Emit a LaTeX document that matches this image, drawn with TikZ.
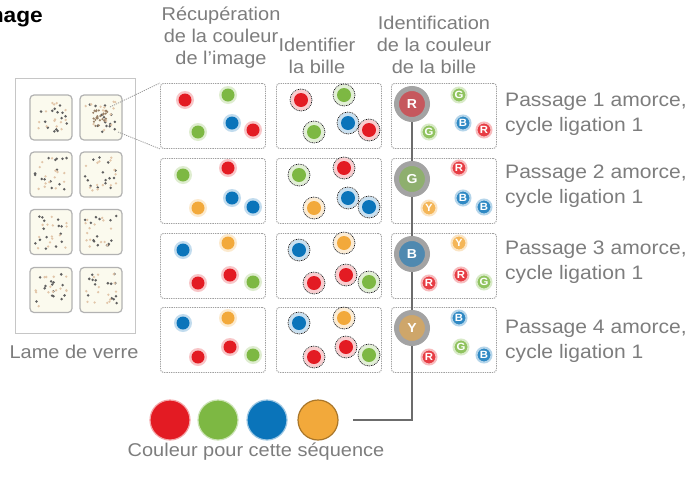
\documentclass[tikz,border=0pt]{standalone}
\usepackage{fontspec}
\setmainfont{Liberation Sans}[FakeStretch=1.08]
\usetikzlibrary{positioning}

\definecolor{cred}{HTML}{E31B23}
\definecolor{cgreen}{HTML}{7DB843}
\definecolor{cblue}{HTML}{0A74BA}
\definecolor{corange}{HTML}{F2A93B}
\definecolor{txtgray}{HTML}{7D7D7D}
\definecolor{ringgray}{HTML}{A3A3A3}
\definecolor{cream}{HTML}{FBFAEE}

\pgfdeclarelayer{front}
\pgfsetlayers{main,front}

\tikzset{
  caption/.style={text=txtgray, font=\fontsize{18.5}{22}\selectfont, align=center, inner sep=0pt},
  panel/.style={draw=gray!75, dash pattern=on 1.3pt off 1pt, line width=0.9pt, rounded corners=3pt,
    fill=white, minimum width=105pt, minimum height=65pt, anchor=north west, inner sep=0pt},
  chip/.style={draw=gray!60, line width=1.2pt, rounded corners=4pt, fill=cream,
    minimum width=42pt, minimum height=45pt, inner sep=0pt},
  ring/.style={black, dash pattern=on 1pt off 0.8pt, line width=0.6pt},
  tag/.style={circle, minimum size=15pt, inner sep=0pt, line width=2pt, text=white,
    font=\bfseries\fontsize{10.5}{11}\selectfont},
  bigbead/.style={circle, minimum size=31pt, inner sep=0pt, draw=ringgray, line width=5pt,
    text=white, font=\bfseries\fontsize{13}{14}\selectfont},
  dye/.style={circle, minimum size=40pt, inner sep=0pt, line width=1.2pt},
  zoomline/.style={gray!80, dash pattern=on 1.2pt off 1pt, line width=0.8pt},
  chain/.style={gray!85!black, line width=1.6pt}
}

\begin{document}
\begin{tikzpicture}[x=1pt, y=-1pt]
\useasboundingbox (0,0) rectangle (688,477);

% title, cut at the left edge
\node[anchor=base east, inner sep=0pt, font=\bfseries\fontsize{21}{24}\selectfont] (title) at (43,22) {Image};

% headers
\node[caption] (h1) at (221,38) {Récupération\\de la couleur\\de l'image};
\node[caption] (h2) at (317,56) {Identifier\\la bille};
\node[caption] (h3) at (434,45) {Identification\\de la couleur\\de la bille};

% glass slide with its spots
\node[draw=gray!45, line width=1.2pt, fill=white, minimum width=120pt, minimum height=255pt,
  anchor=north west, inner sep=0pt] (slide) at (15,78) {};
\node[caption] (slidetxt) at (74,352) {Lame de verre};
\pgfmathsetseed{11}
\foreach \row/\cy in {1/117.5,2/174.5,3/232,4/290}
  \foreach \col/\cx in {1/51,2/101} {
    \node[chip] (s\row\col) at (\cx,\cy) {};
    \foreach \k in {1,...,14} {
      \pgfmathsetmacro\dx{rand*16}
      \pgfmathsetmacro\dy{rand*17}
      \fill[gray!75!black] (\cx+\dx,\cy+\dy) circle (1.4);
    }
    \foreach \k in {1,...,14} {
      \pgfmathsetmacro\dx{rand*16}
      \pgfmathsetmacro\dy{rand*17}
      \fill[brown!45!white] (\cx+\dx,\cy+\dy) circle (1.3);
    }
  }
% dense spot that gets magnified
\foreach \k in {1,...,26} {
  \pgfmathsetmacro\dx{rand*8}
  \pgfmathsetmacro\dy{rand*8}
  \fill[gray!60!brown] (101+\dx,118+\dy) circle (1.2);
}

% panels and beads: colour in image / identified / decoded
\foreach \row/\top/\beads in {
  1/83/{cred/cred/R/25/17, cgreen/cgreen/G/68/12, cblue/cblue/B/72/40, cred/cred/R/93/47, cgreen/cgreen/G/38/49},
  2/158/{cgreen/cgreen/G/23/17, cred/cred/R/68/10, cblue/cblue/B/72/40, cblue/cblue/B/93/49, corange/corange/Y/38/50},
  3/233/{cblue/cblue/B/23/17, corange/corange/Y/68/10, cred/cred/R/70/42, cgreen/cgreen/G/93/49, cred/cred/R/38/50},
  4/307/{cblue/corange/Y/23/16, corange/cblue/B/68/11, cred/cgreen/G/70/40, cgreen/cblue/B/93/48, cred/cred/R/38/50}}
{
  \foreach \col/\lx in {1/160,2/276,3/391}
    \node[panel] (p\row\col) at (\lx,\top) {};
  \foreach \c/\cc/\l/\dx/\dy [count=\i] in \beads {
    \fill[\c!25] (160+\dx,\top+\dy) circle (9);
    \fill[\c] (160+\dx,\top+\dy) circle (6.5);
    \fill[\c!22] (276+\dx,\top+\dy) circle (10.5);
    \draw[ring] (276+\dx,\top+\dy) circle (11);
    \fill[\c] (276+\dx,\top+\dy) circle (7);
    \begin{pgfonlayer}{front}
      \ifnum\i=1
        \node[bigbead, fill=\cc!55!ringgray] (b\row) at (412,\top+21) {\l};
      \else
        \node[tag, fill=\cc!85!white, draw=\cc!30] (q\row\i) at (391+\dx,\top+\dy) {\l};
      \fi
    \end{pgfonlayer}
  }
}

% passages
\node[caption, anchor=west, align=left, font=\fontsize{19.5}{25}\selectfont] (t1) at (505,114.5) {Passage 1 amorce,\\cycle ligation 1};
\node[caption, anchor=west, align=left, font=\fontsize{19.5}{25}\selectfont] (t2) at (505,186.5) {Passage 2 amorce,\\cycle ligation 1};
\node[caption, anchor=west, align=left, font=\fontsize{19.5}{25}\selectfont] (t3) at (505,262.5) {Passage 3 amorce,\\cycle ligation 1};
\node[caption, anchor=west, align=left, font=\fontsize{19.5}{25}\selectfont] (t4) at (505,341.5) {Passage 4 amorce,\\cycle ligation 1};

% magnification lines
\coordinate (zA) at (110,107);
\coordinate (zB) at (118,132);
\draw[zoomline] (zA) -- (p11.north west);
\draw[zoomline] (zB) -- (p11.south west);

% colour read for this sequence
\node[dye, fill=cred, draw=cred!40] (d1) at (170,420) {};
\node[dye, fill=cgreen, draw=cgreen!40] (d2) at (218,420) {};
\node[dye, fill=cblue, draw=cblue!40] (d3) at (267,420) {};
\node[dye, fill=corange, draw=corange!70!black] (d4) at (318,420) {};
\node[caption] (seqtxt) at (256,452) {Couleur pour cette séquence};

\coordinate (turn) at (412,420);
\coordinate (lend) at (353,420);
\draw[chain] (b1.center) -- (turn) -- (lend);
\end{tikzpicture}
\end{document}
